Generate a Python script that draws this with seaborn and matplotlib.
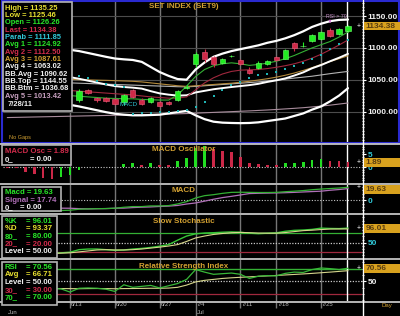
import numpy as np
import matplotlib
matplotlib.use("Agg")
import matplotlib.pyplot as plt
from matplotlib.patches import Rectangle
from matplotlib.ticker import MultipleLocator
import seaborn as sns

# ---------------- data ----------------
days = list(range(-8, 31))   # trading-day index: 0 = 6/14/11, 30 = 7/28/11
date_ticks = [-1, 4, 9, 13, 18, 22, 27]
date_labels = ["6/13", "6/20", "6/27", "7/4", "7/11", "7/18", "7/25"]
month_ticks = [-8, 13]
month_labels = ["Jun", "Jul"]
last_date = "7/28/11"

candle_days = list(range(0, 31))
open_ = [1017.5, 1034.5, 1021.8, 1021.0, 1020.0, 1014.8, 1033.3, 1018.6, 1014.8, 1014.8,
         1014.8, 1018.6, 1036.5, 1075.4, 1093.7, 1085.0, 1076.4, 1086.5, 1080.6, 1064.8,
         1069.0, 1074.3, 1085.0, 1083.3, 1107.0, 1102.2, 1111.0, 1113.7, 1128.0, 1121.6, 1126.26]
high = [1036.0, 1036.0, 1023.5, 1023.0, 1022.0, 1027.5, 1035.0, 1020.5, 1023.5, 1016.5,
        1016.5, 1034.0, 1041.0, 1093.7, 1097.5, 1088.0, 1083.5, 1089.5, 1083.0, 1070.0,
        1079.0, 1081.5, 1086.5, 1098.0, 1109.5, 1109.5, 1121.5, 1127.0, 1131.0, 1131.0, 1135.25]
low = [1015.0, 1027.5, 1015.0, 1014.5, 1010.5, 1011.0, 1021.0, 1011.0, 1013.0, 1006.5,
       1010.5, 1017.0, 1035.0, 1070.0, 1078.0, 1070.0, 1075.0, 1085.0, 1073.5, 1059.6,
       1067.5, 1072.5, 1079.5, 1082.0, 1095.3, 1101.8, 1109.5, 1112.0, 1116.5, 1120.5, 1125.46]
close = [1033.0, 1029.0, 1017.5, 1016.5, 1012.3, 1025.4, 1022.8, 1012.3, 1021.8, 1008.5,
         1012.3, 1032.2, 1039.0, 1090.0, 1083.3, 1074.0, 1082.0, 1087.5, 1075.4, 1061.2,
         1077.0, 1079.5, 1081.7, 1096.4, 1100.6, 1103.0, 1120.0, 1125.3, 1119.0, 1129.5, 1134.38]

bb_top = [1110, 1109, 1107, 1105, 1103, 1101, 1099, 1097, 1095, 1092, 1089, 1086, 1083.3,
          1082, 1081, 1078, 1070, 1062, 1056, 1051, 1050, 1066, 1077, 1086, 1091, 1095, 1098,
          1101, 1104, 1108, 1111, 1115, 1120, 1126, 1133, 1138, 1142, 1144, 1144.55]
bb_bot = [1025, 1023, 1021, 1019, 1016, 1014, 1012, 1010.5, 1008, 1005, 1002, 999, 996.5,
          995, 994, 994, 994.5, 995, 997, 999, 1001, 994, 988, 984, 982.5, 982, 981.7, 982,
          983, 985, 987, 989, 993, 997, 1003, 1008, 1016, 1025, 1036.68]
bb_avg = [1067.5, 1066, 1064, 1062, 1059.5, 1057.5, 1055.5, 1054, 1051.5, 1048.5, 1045.5,
          1042.5, 1040, 1038.5, 1037.5, 1036, 1032, 1028.5, 1026.5, 1025, 1025.5, 1030, 1032.5,
          1035, 1036.8, 1038.5, 1040, 1041.5, 1043.5, 1046.5, 1049, 1052, 1056.5, 1061.5, 1068,
          1073, 1079, 1084.5, 1090.62]
avg1 = [1045, 1042, 1038, 1035, 1031, 1028, 1026, 1025, 1024, 1023, 1022, 1021, 1020.5, 1020,
        1020, 1019, 1018.5, 1018, 1018, 1026, 1040, 1055, 1066, 1072, 1075, 1076.5, 1075,
        1072.5, 1074, 1076, 1079, 1083, 1088, 1094, 1100, 1105, 1110, 1117, 1124.92]
avg2 = [1045, 1043, 1041, 1039, 1037, 1035, 1034, 1033, 1032, 1031, 1030, 1029, 1028, 1027,
        1026, 1024.5, 1023, 1022, 1021, 1021, 1023, 1034, 1045, 1053, 1059, 1063, 1065, 1065.5,
        1066, 1067.5, 1069.5, 1072, 1075, 1079, 1084, 1090, 1097, 1104.5, 1112.5]
avg3 = [1055, 1054.5, 1054, 1053, 1052.5, 1052, 1051, 1050.5, 1050, 1049.7, 1049.3, 1049,
        1048.5, 1048, 1047.5, 1046.5, 1045, 1043.5, 1042, 1040.5, 1039.5, 1040.5, 1041.5,
        1042.5, 1043.5, 1044.5, 1046, 1047.5, 1049.5, 1051.5, 1054, 1057, 1060.5, 1064.5, 1069,
        1074, 1078.5, 1083, 1087.61]
avg4 = [1048, 1047.5, 1047, 1046.5, 1046, 1045.7, 1045.3, 1045, 1044.5, 1044, 1043.5, 1043,
        1042.5, 1042, 1041.5, 1041, 1040.5, 1040, 1039.5, 1039, 1038.8, 1039.5, 1040.5, 1041.5,
        1042.5, 1043.5, 1044.5, 1045.5, 1046.5, 1048, 1049.5, 1051, 1052.5, 1054, 1055.5,
        1057.5, 1059.5, 1061.3, 1063.02]
avg5 = [990.5, 990.8, 991.1, 991.4, 991.7, 992.0, 992.3, 992.6, 992.9, 993.2, 993.5, 993.8,
        994.1, 994.4, 994.7, 995.0, 995.3, 995.6, 996.0, 996.4, 996.8, 997.4, 998.0, 998.6,
        999.2, 999.8, 1000.4, 1001.0, 1001.7, 1002.4, 1003.2, 1004.1, 1005.0, 1006.0, 1007.2,
        1008.5, 1010.0, 1011.7, 1013.42]
parab = [np.nan] * 8 + [1056, 1052, 1048, 1044, 1041, 1038, 996, 997, 998, 998.5, 999, 1000.5,
                        1003, 1007, 1015, 1024, 1034, 1041, 1047, 1052.5, 1058, 1059.5, 1062,
                        1066.5, 1071.5, 1077, 1082, 1089.5, 1097.5, 1105.5, 1111.85]

macd_osc = [-0.3, -0.3, -1.7, -2.7, -4.2, -4.6, -3.6, -3.0, -0.9, 0, 0, 0, 0, 1.3, 1.5, 0.9,
            1.5, 0.8, 0.75, 2.3, 3.6, 7.5, 8.3, 6.9, 6.4, 6.0, 4.1, 1.8, 1.2, 0.9, 0.85, 1.5,
            1.8, 2.1, 2.8, 3.2, 2.6, 2.3, 1.89]
macd = [-8, -9, -11, -13, -15, -16, -15.5, -15, -13.5, -13, -12.7, -12.5, -12, -10.5, -9.5,
        -9.5, -8.5, -8.5, -8, -5.5, -2, 3.5, 7, 8.5, 10.5, 12, 12.2, 12, 11.8, 11.8, 12, 13,
        13.8, 14.7, 16, 17, 17.8, 18.6, 19.63]
signal = [-7.7, -8.7, -9.3, -10.3, -10.8, -11.4, -11.9, -12.0, -12.6, -13, -12.7, -12.5, -12,
          -11.8, -11.0, -10.4, -10.0, -9.3, -8.75, -7.8, -5.6, -4.0, -1.3, 1.6, 4.1, 6.0, 8.1,
          10.2, 10.6, 10.9, 11.15, 11.5, 12.0, 12.6, 13.2, 13.8, 15.2, 16.3, 17.74]
stoch_k = [20, 18, 16, 15, 16, 17, 18, 20, 28, 30, 30, 28, 26, 27, 30, 32, 35, 39, 44, 58, 71,
           78, 80.5, 81.5, 83, 84, 83, 80, 78.5, 80, 81, 86, 89, 90, 92, 96, 95, 94.5, 96.01]
stoch_d = [22, 21, 19, 17, 16, 16, 17, 18, 21, 24, 27, 28, 27, 27, 28, 30, 33, 36, 39.5, 44,
           54, 65, 71, 76, 79, 81.5, 82.5, 81.5, 80.5, 80, 80, 82, 85, 88, 89.5, 91.5, 93, 93.3,
           93.37]
rsi = [38, 40, 37, 36, 37, 39, 38, 33, 39, 39.5, 39, 37.5, 34, 44.5, 40.5, 42, 43.5, 39.5, 43,
       46.5, 53, 68.5, 64.5, 61, 62, 63, 61, 54.5, 58, 59, 58.5, 62.5, 64.5, 64, 68.5, 71, 70,
       68.5, 70.56]
rsi_avg = [38, 38.3, 38.5, 38.4, 38.2, 38.3, 38.5, 38.4, 38.3, 38.5, 38.6, 38.5, 38.2, 38.5,
           38.6, 38.8, 39, 39, 39.3, 40.5, 44, 49, 51.5, 53, 54.5, 55.5, 56.3, 57, 57.8, 58.5,
           59.2, 60, 60.8, 61.6, 62.5, 63.5, 64.5, 65.6, 66.71]

# ---------------- style ----------------
sns.set_theme(style="dark")
plt.rcParams['font.family'] = ['Liberation Sans', 'DejaVu Sans']
plt.rcParams['axes.facecolor'] = 'black'
plt.rcParams['figure.facecolor'] = 'black'
plt.rcParams['savefig.facecolor'] = 'black'
plt.rcParams['patch.edgecolor'] = 'none'

GREEN = '#28e628'
RED = '#d22c4c'
YELLOW = '#e8e030'
CYAN = '#30c8d8'
TAN = '#d2a032'
WHITE = '#f0f0f0'
PINK = '#c8a0c0'
PURPLE = '#b070b8'
LINE_GREEN = '#34b034'
LINE_RED = '#a0283e'
PALE = '#d6d68c'

W, H = 400, 316
X0, X1 = 3, 362
XLIM = (-8.476, 31.56)

fig = plt.figure(figsize=(W / 100, H / 100), dpi=100)
fig.patch.set_facecolor('black')


def panel(top, bottom):
    ax = fig.add_axes([X0 / W, 1 - bottom / H, (X1 - X0) / W, (bottom - top) / H])
    ax.set_facecolor('black')
    return ax


def finish(ax, ylim, major, labels, lab_color, minor_step):
    ax.set_xlim(*XLIM)
    ax.set_ylim(*ylim)
    for s in ax.spines.values():
        s.set_visible(False)
    ax.set_xticks(date_ticks)
    ax.tick_params(axis='x', length=0, labelbottom=False, bottom=False)
    ax.grid(axis='x', color='#767676', lw=1.0)
    ax.set_axisbelow(True)
    ax.yaxis.tick_right()
    ax.set_yticks(major)
    ax.set_yticklabels(labels)
    ax.yaxis.set_minor_locator(MultipleLocator(minor_step))
    ax.tick_params(axis='y', which='major', right=True, left=False, length=3, width=0.8,
                   color='white', labelcolor=lab_color, labelsize=6.0, pad=1.0, direction='out')
    ax.tick_params(axis='y', which='minor', right=True, left=False, length=1.6, width=0.6,
                   color='white', direction='out')
    for t in ax.get_yticklabels():
        t.set_fontweight('bold')
    ax.set_xlabel('')
    ax.set_ylabel('')


# ---------- main price panel ----------
ax_main = panel(1, 142.5)
for series, col, lw in [(avg5, '#a88c9c', 0.8), (avg4, '#b4b4b4', 0.8), (avg3, '#b48a3c', 0.8),
                        (bb_avg, 'white', 1.4), (bb_top, 'white', 1.6), (bb_bot, 'white', 1.6),
                        (avg2, LINE_RED, 0.8), (avg1, LINE_GREEN, 0.8)]:
    sns.lineplot(x=days, y=series, ax=ax_main, color=col, lw=lw, zorder=3)
sns.scatterplot(x=days, y=parab, ax=ax_main, color='#20b4b4', s=2.5, marker='s',
                linewidth=0, zorder=4)
o = np.array(open_); c = np.array(close); hi = np.array(high); lo = np.array(low)
up = c >= o
ccol = np.where(up, '#22ee22', '#d02a48')
ecol = np.where(up, '#70ff70', '#f06080')
ax_main.vlines(candle_days, lo, hi, colors=ccol, lw=0.8, zorder=5)
ax_main.bar(candle_days, np.abs(c - o), bottom=np.minimum(o, c), width=0.6, color=ccol,
            edgecolor=ecol, linewidth=0.4, zorder=6)
ax_main.axvline(days[-1] - 0.1, color='white', lw=1.0, zorder=2)
finish(ax_main, (951.3, 1173.7), [1000, 1050, 1100, 1150],
       [f"{v:.2f}" for v in [1000, 1050, 1100, 1150]], WHITE, 5)
ax_main.grid(axis='y', color='#4c4c4c', lw=0.8)

# ---------- MACD oscillator ----------
ax_osc = panel(145, 182.5)
osc = np.array(macd_osc)
rising = np.r_[False, np.diff(osc) > 0]
ax_osc.bar(days, osc, width=0.3, color=np.where(rising, '#22dd22', '#cc2848'),
           edgecolor='none', linewidth=0, zorder=3)
ax_osc.axhline(0, color='#c8c8c8', lw=0.8, ls=(0, (1, 1.5)), zorder=2)
ax_osc.axvline(days[-1] - 0.1, color='white', lw=1.0, zorder=2)
finish(ax_osc, (-5.85, 8.58), [0, 5], ["0", "5"], CYAN, 1)

# ---------- MACD ----------
ax_macd = panel(184.5, 213)
ax_macd.axhline(0, color='#c8c8c8', lw=0.8, ls=(0, (1, 1.5)), zorder=2)
sns.lineplot(x=days, y=signal, ax=ax_macd, color=PURPLE, lw=0.9, zorder=3)
sns.lineplot(x=days, y=macd, ax=ax_macd, color=LINE_GREEN, lw=0.9, zorder=4)
ax_macd.axvline(days[-1] - 0.1, color='white', lw=1.0, zorder=2)
finish(ax_macd, (-19.2, 23.9), [0], ["0"], CYAN, 5)

# ---------- Slow stochastic ----------
ax_sto = panel(215, 258)
ax_sto.axhline(80, color=LINE_GREEN, lw=0.9, zorder=2)
ax_sto.axhline(50, color='#c8c8c8', lw=0.9, ls=(0, (1, 1.2)), zorder=2)
ax_sto.axhline(20, color=LINE_RED, lw=0.9, zorder=2)
sns.lineplot(x=days, y=stoch_k, ax=ax_sto, color='#38c838', lw=1.0, zorder=3)
sns.lineplot(x=days, y=stoch_d, ax=ax_sto, color=PALE, lw=0.8, zorder=4)
ax_sto.axvline(days[-1] - 0.1, color='white', lw=1.0, zorder=2)
finish(ax_sto, (1.7, 137.4), [50], ["50"], CYAN, 10)

# ---------- RSI ----------
ax_rsi = panel(260, 301)
ax_rsi.axhline(70, color=LINE_GREEN, lw=1.0, zorder=2)
ax_rsi.axhline(50, color='#c8c8c8', lw=0.9, ls=(0, (1, 1.2)), zorder=2)
ax_rsi.axhline(30, color=LINE_RED, lw=0.9, zorder=2)
sns.lineplot(x=days, y=rsi_avg, ax=ax_rsi, color=PALE, lw=0.8, zorder=3)
sns.lineplot(x=days, y=rsi, ax=ax_rsi, color='#38b838', lw=0.9, zorder=4)
ax_rsi.axvline(days[-1] - 0.1, color='white', lw=1.0, zorder=2)
finish(ax_rsi, (18.9, 83.6), [50], ["50"], WHITE, 10)

# ---------- date axis ----------
ax_date = panel(301, 316)
ax_date.set_xlim(*XLIM)
ax_date.set_ylim(0, 1)
ax_date.axis('off')
for t, lab in zip(date_ticks, date_labels):
    ax_date.vlines(t, 0.0 if t in month_ticks else 0.55, 1, color='#767676', lw=1.0)
    ax_date.text(t + 0.1, 0.78, lab, ha='left', va='center', fontsize=4.3, color='#b8b8b8')
for t, lab in zip(month_ticks, month_labels):
    ax_date.text(t + 0.1, 0.22, lab, ha='left', va='center', fontsize=4.3, color='#b8b8b8')

# ---------- overlay (frames, legends, titles) ----------
ov = fig.add_axes([0, 0, 1, 1])
ov.set_xlim(0, W)
ov.set_ylim(H, 0)
ov.axis('off')
ov.set_zorder(20)
ov.patch.set_visible(False)

for y in [144.3, 183.5, 213.8, 259.0, 301.5]:
    ov.plot([0, W], [y, y], color='#c4c4c4', lw=1.3)
ov.add_patch(Rectangle((2.3, 0.8), 396.7, 141.9, fill=False, ec='#2a2ad0', lw=1.5))
ov.plot([362.5, 362.5], [0, H], color='white', lw=1.0)

titles = [("SET INDEX (SET9)", 6.5), ("MACD Oscillator", 149.5), ("MACD", 190.5),
          ("Slow Stochastic", 221.5), ("Relative Strength Index", 266.5)]
for txt, y in titles:
    ov.text(183.5, y, txt, ha='center', va='center', fontsize=5.8, fontweight='bold', color=TAN)

FS = 5.6
FS_MAIN = 5.4


def legend_box(x0, y0, x1, y1):
    ov.add_patch(Rectangle((x0, y0), x1 - x0, y1 - y0, fc='black', ec='#b4b4b4', lw=1.2,
                           zorder=5))


def value_box(ax, val, txt, top_px):
    y = H - ax.transData.transform((0, val))[1]
    ov.text(358.5, y, '+', color='white', fontsize=5, ha='center', va='center', zorder=7)
    yb = max(y, top_px + 5)
    ov.add_patch(Rectangle((364, yb - 4.4), 35.5, 8.8, fc='#d8a11e', ec='none', zorder=6))
    ov.text(365.5, yb + 0.3, txt, color='#5a3e10', fontsize=6.0, fontweight='bold',
            ha='left', va='center', zorder=7)


# main legend
legend_box(2.5, 1.5, 71.5, 110.5)
main_items = [("High", high[-1], YELLOW), ("Low", low[-1], YELLOW), ("Open", open_[-1], GREEN),
              ("Last", close[-1], RED), ("Parab", parab[-1], CYAN), ("Avg 1", avg1[-1], GREEN),
              ("Avg 2", avg2[-1], RED), ("Avg 3", avg3[-1], TAN), ("Avg 4", avg4[-1], WHITE),
              ("BB.Avg", bb_avg[-1], WHITE), ("BB.Top", bb_top[-1], WHITE),
              ("BB.Btm", bb_bot[-1], WHITE), ("Avg 5", avg5[-1], PINK)]
for i, (lab, v, col) in enumerate(main_items):
    ov.text(4.8, 8.3 + 7.33 * i, f"{lab} = {v:.2f}", color=col, fontsize=FS_MAIN,
            fontweight='bold', ha='left', va='center', zorder=7)
ov.text(8, 104.6, last_date, color=WHITE, fontsize=FS_MAIN, fontweight='bold', ha='left',
        va='center', zorder=7)

# oscillator legend
legend_box(2, 145, 71, 165)
ov.text(4.8, 151.7, f"MACD Osc = {macd_osc[-1]:.2f}", color=RED, fontsize=FS,
        fontweight='bold', ha='left', va='center', zorder=7)
ov.text(4.8, 159.2, "0_", color=WHITE, fontsize=FS, fontweight='bold', ha='left',
        va='center', zorder=7)
ov.text(30, 159.2, "= 0.00", color=WHITE, fontsize=FS, fontweight='bold', ha='left',
        va='center', zorder=7)

# MACD legend
legend_box(2, 186.5, 60.5, 210.5)
ov.text(4.8, 192.4, f"Macd = {macd[-1]:.2f}", color=GREEN, fontsize=FS, fontweight='bold',
        ha='left', va='center', zorder=7)
ov.text(4.8, 200.0, f"Signal = {signal[-1]:.2f}", color=PURPLE, fontsize=FS,
        fontweight='bold', ha='left', va='center', zorder=7)
ov.text(4.8, 207.3, "0_", color=WHITE, fontsize=FS, fontweight='bold', ha='left',
        va='center', zorder=7)
ov.text(20, 207.3, "= 0.00", color=WHITE, fontsize=FS, fontweight='bold', ha='left',
        va='center', zorder=7)

# stochastic legend
legend_box(2, 216, 56.5, 258.3)
sto_items = [("%K", f"{stoch_k[-1]:.2f}", GREEN), ("%D", f"{stoch_d[-1]:.2f}", YELLOW),
             ("80_", "80.00", GREEN), ("20_", "20.00", RED), ("Level", "50.00", WHITE)]
for i, (lab, v, col) in enumerate(sto_items):
    y = 221.2 + 7.6 * i
    ov.text(4.8, y, lab, color=col, fontsize=FS, fontweight='bold', ha='left', va='center',
            zorder=7)
    ov.text(26, y, f"= {v}", color=col, fontsize=FS, fontweight='bold', ha='left',
            va='center', zorder=7)

# RSI legend
legend_box(2, 261.5, 56.5, 305)
rsi_items = [("RSI", f"{rsi[-1]:.2f}", GREEN), ("Avg", f"{rsi_avg[-1]:.2f}", YELLOW),
             ("Level", "50.00", WHITE), ("30_", "30.00", RED), ("70_", "70.00", GREEN)]
for i, (lab, v, col) in enumerate(rsi_items):
    y = 267.4 + 7.6 * i
    ov.text(4.8, y, lab, color=col, fontsize=FS, fontweight='bold', ha='left', va='center',
            zorder=7)
    ov.text(26, y, f"= {v}", color=col, fontsize=FS, fontweight='bold', ha='left',
            va='center', zorder=7)

# value boxes on the right scale
value_box(ax_main, close[-1], f"{close[-1]:.2f}", 1)
value_box(ax_osc, macd_osc[-1], f"{macd_osc[-1]:.2f}", 145)
value_box(ax_macd, macd[-1], f"{macd[-1]:.2f}", 184.5)
value_box(ax_sto, stoch_k[-1], f"{stoch_k[-1]:.2f}", 215)
value_box(ax_rsi, rsi[-1], f"{rsi[-1]:.2f}", 260)

# small annotations
ov.text(120, 104.5, "MACD", color=CYAN, fontsize=4.4, ha='left', va='center', zorder=4)
ov.text(326, 17, "RSI > 70", color='#c890c8', fontsize=3.8, ha='left', va='center', zorder=4)
ov.annotate('', xy=(330, 25.5), xytext=(330, 19.5),
            arrowprops=dict(arrowstyle='-|>', color='#d070d0', lw=0.6, mutation_scale=3))
ov.text(9, 137.5, "No Gaps", color=TAN, fontsize=4, ha='left', va='center')
ov.text(387, 305.5, "Day", color=TAN, fontsize=4.3, ha='center', va='center')

fig.savefig("out.png", dpi=100, facecolor='black')
